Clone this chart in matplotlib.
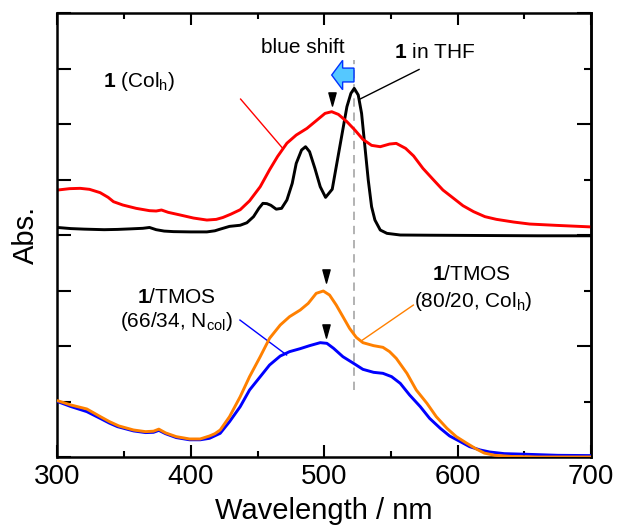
import matplotlib
matplotlib.use('Agg')
import matplotlib.pyplot as plt
from matplotlib.patches import FancyArrow
from matplotlib.path import Path
from matplotlib.ticker import MultipleLocator

plt.rcParams['font.family'] = ['Liberation Sans', 'DejaVu Sans']
plt.rcParams['mathtext.fontset'] = 'custom'
plt.rcParams['mathtext.rm'] = 'Liberation Sans'
plt.rcParams['mathtext.bf'] = 'Liberation Sans:bold'
plt.rcParams['mathtext.it'] = 'Liberation Sans:italic'

# spectra (stacked, offset included)
thf_wl = [300, 310, 320, 335, 345, 355, 364, 369, 374, 380, 387, 400, 412, 418, 422,
          429, 437, 442, 447, 451, 454, 457, 460, 464, 468, 472, 476, 479, 483, 486,
          489, 493, 497, 501, 506, 509, 513, 517, 520, 522.5, 525.5, 528, 530.5, 533,
          535.5, 538, 542, 547, 557, 580, 620, 660, 700]
thf_abs = [4.14, 4.12, 4.11, 4.10, 4.105, 4.115, 4.125, 4.14, 4.10, 4.075, 4.065, 4.06,
           4.06, 4.08, 4.11, 4.16, 4.18, 4.225, 4.335, 4.485, 4.575, 4.57, 4.54, 4.47,
           4.485, 4.635, 4.935, 5.296, 5.537, 5.597, 5.507, 5.206, 4.875, 4.683, 4.83,
           5.236, 5.777, 6.318, 6.559, 6.649, 6.529, 6.198, 5.597, 4.996, 4.515, 4.274,
           4.094, 4.034, 4.004, 4.00, 3.995, 3.99, 3.99]

colh_wl = [300, 309, 317, 324, 332, 338, 342, 349, 359, 369, 374, 378, 383, 392, 402,
           412, 419, 424, 430, 437, 444, 452, 459, 465, 472, 479, 487, 494, 500.6, 505.6,
           510.6, 517, 523, 529, 535.5, 542, 549, 554, 561, 567, 574, 582, 589, 597, 604,
           612, 620.5, 629, 642, 654, 674, 700]
colh_abs = [4.815, 4.84, 4.846, 4.828, 4.768, 4.683, 4.605, 4.545, 4.485, 4.443, 4.437,
            4.455, 4.413, 4.365, 4.31, 4.274, 4.286, 4.32, 4.38, 4.46, 4.62, 4.875, 5.18,
            5.42, 5.66, 5.807, 5.927, 6.066, 6.198, 6.228, 6.18, 6.048, 5.897, 5.729,
            5.621, 5.597, 5.645, 5.657, 5.567, 5.43, 5.206, 4.996, 4.815, 4.665, 4.533,
            4.425, 4.335, 4.287, 4.238, 4.202, 4.178, 4.15]

tmos80_wl = [300, 310, 322, 332, 339, 346, 357, 366, 372, 376, 381, 389, 399, 407, 414,
             418, 422, 429, 437, 444, 452, 459, 467, 474, 482, 488, 494, 499.3, 504, 509,
             514, 519, 524, 529, 537, 544, 549, 554, 562, 569, 577, 584, 592, 599, 607,
             614, 620, 628, 640, 660, 700]
tmos80_abs = [1.016, 0.938, 0.866, 0.73, 0.637, 0.56, 0.487, 0.457, 0.465, 0.502, 0.435,
              0.367, 0.325, 0.325, 0.379, 0.42, 0.487, 0.727, 1.088, 1.448, 1.809, 2.14,
              2.38, 2.531, 2.651, 2.771, 2.952, 2.994, 2.921, 2.741, 2.531, 2.32, 2.158,
              2.062, 2.008, 1.978, 1.9, 1.779, 1.509, 1.208, 0.968, 0.727, 0.517, 0.367,
              0.246, 0.144, 0.07, 0.03, 0.01, 0.0, 0.0]

tmos66_wl = [300, 310, 322, 332, 339, 345, 357, 366, 372, 376, 381, 389, 399, 407, 414,
             422, 429, 437, 444, 452, 459, 467, 474, 482, 489, 497, 502, 507, 514, 522,
             529, 537, 544, 550.5, 557, 564, 572, 579, 587, 594, 602, 609, 617, 624, 635,
             650, 675, 700]
tmos66_abs = [1.00, 0.91, 0.818, 0.697, 0.61, 0.547, 0.47, 0.44, 0.445, 0.48, 0.42, 0.35,
              0.31, 0.31, 0.337, 0.427, 0.637, 0.908, 1.208, 1.448, 1.659, 1.821, 1.9,
              1.954, 2.008, 2.062, 2.05, 1.96, 1.809, 1.689, 1.581, 1.527, 1.509, 1.449,
              1.328, 1.118, 0.908, 0.697, 0.517, 0.379, 0.277, 0.186, 0.126, 0.09, 0.06,
              0.05, 0.03, 0.025]

# peak markers (wavelength, position)
marker_wl = [505.6, 501, 501]
marker_y = [6.46, 3.26, 2.27]

thf_peak = 522.5

fig = plt.figure(figsize=(6.18, 5.31), dpi=100)
ax = fig.add_axes([0.093, 0.1394, 0.8633, 0.8352])

lw = 2.1
style = dict(lw=lw, solid_joinstyle='round', solid_capstyle='round')
ax.plot(thf_wl, thf_abs, color='black', **style)
ax.plot(colh_wl, colh_abs, color='#ff0000', **style)
ax.plot(tmos80_wl, tmos80_abs, color='#ff8000', zorder=3, **style)
ax.plot(tmos66_wl, tmos66_abs, color='#0000ff', zorder=2.9, **style)

ax.plot([thf_peak, thf_peak], [1.21, 7.16], color='#a6a6a6', lw=1.2,
        dashes=(5, 3.5), zorder=1)

tri = Path([(-0.55, 1), (0.55, 1), (0, -1), (-0.55, 1)],
           [Path.MOVETO, Path.LINETO, Path.LINETO, Path.CLOSEPOLY])
ax.plot(marker_wl, marker_y, ls='none', marker=tri, ms=9.5, color='black')

ax.add_patch(FancyArrow(522.3, 6.89, -16.7, 0, width=0.25, head_width=0.53,
                        head_length=8.2, length_includes_head=True,
                        fc='#55c8ff', ec='#0033ff', lw=1.0, zorder=4))

# labels + leaders
fs = 15
ax.text(484.2, 7.28, 'blue shift', fontsize=fs, ha='center', va='baseline')
ax.text(552.3, 7.19, r'$\mathbf{1}$ in THF', fontsize=fs, ha='left', va='baseline')
ax.plot([571.1, 526.3], [6.99, 6.45], color='black', lw=1.0)

ax.text(334.1, 6.67, r'$\mathbf{1}$ (Col$_\mathrm{h}$)', fontsize=fs, ha='left', va='baseline')
ax.plot([437.3, 468.5], [6.456, 5.578], color='#ff0000', lw=1.0)

ax.text(389.5, 2.78, r'$\mathbf{1}$/TMOS', fontsize=fs, ha='center', va='baseline')
ax.text(389.5, 2.35, r'(66/34, N$_\mathrm{col}$)', fontsize=fs, ha='center', va='baseline')
ax.plot([436.8, 471.8], [2.47, 1.84], color='#0000ff', lw=1.0)

ax.text(610, 3.19, r'$\mathbf{1}$/TMOS', fontsize=fs, ha='center', va='baseline')
ax.text(611.5, 2.71, r'(80/20, Col$_\mathrm{h}$)', fontsize=fs, ha='center', va='baseline')
ax.plot([566.8, 528.1], [2.74, 2.10], color='#ff8000', lw=1.0)

ax.set_xlim(300, 700)
ax.set_ylim(0, 8)
ax.xaxis.set_major_locator(MultipleLocator(100))
ax.xaxis.set_minor_locator(MultipleLocator(50))
ax.yaxis.set_major_locator(MultipleLocator(1))
ax.set_yticklabels([])
ax.tick_params(axis='x', which='major', direction='in', length=8.6, width=1.5,
               top=True, labelsize=20, pad=5)
ax.tick_params(axis='x', which='minor', direction='in', length=4.3, width=1.5, top=True)
ax.tick_params(axis='y', which='major', direction='in', length=10, width=1.5,
               right=False, left=True)

# right axis ticks alternate long / short
sec = ax.secondary_yaxis('right')
sec.yaxis.set_major_locator(MultipleLocator(2))
sec.yaxis.set_minor_locator(MultipleLocator(1))
sec.set_yticklabels([])
sec.tick_params(which='major', direction='in', length=10, width=1.5)
sec.tick_params(which='minor', direction='in', length=5, width=1.5)
sec.spines['right'].set_linewidth(1.8)

for s in ax.spines.values():
    s.set_linewidth(1.8)

ax.set_xlabel('Wavelength / nm', fontsize=21, labelpad=5)
ax.set_ylabel('Abs.', fontsize=21, labelpad=9)

fig.savefig('out.png', dpi=100)
